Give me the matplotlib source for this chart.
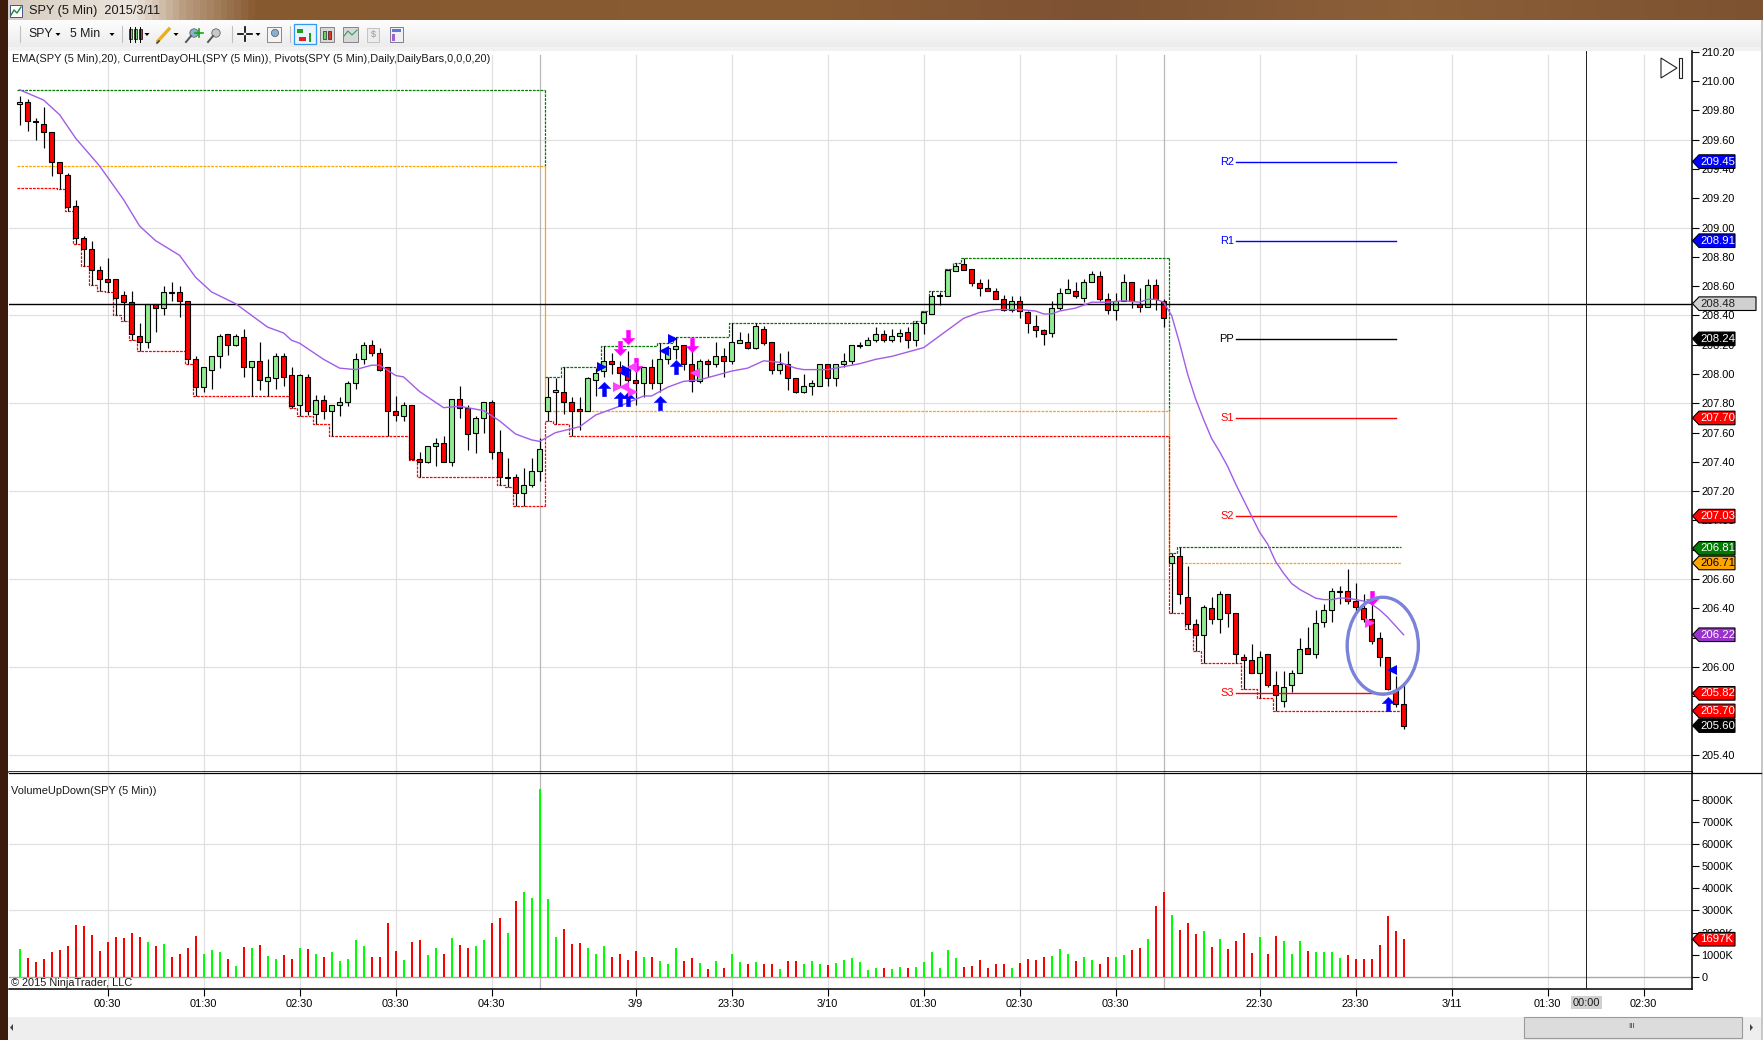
import numpy as np
import matplotlib
matplotlib.use("Agg")
import matplotlib.pyplot as plt
from matplotlib.colors import LinearSegmentedColormap
from matplotlib.patches import Polygon, Rectangle, Ellipse
from matplotlib.path import Path
from matplotlib.transforms import blended_transform_factory

plt.rcParams['font.family'] = ['Liberation Sans', 'DejaVu Sans']

# ---------- data ----------
directions = ("GRRRRRRRRR" "RRRRRRGRGR" "RRRGGGRGRG" "RGGRRGRGRG" "GGGGRRRRGR" "RGGRGRRGGR"
              "RGRGGGGGRR" "RGGGRRRRGR" "GGGRRGRGRG" "GRGRRGRRGG" "GRGGGGGGRG" "GRGGGGGGRR"
              "RRRRGRRRRG" "GGRGGRRGGR" "RGRRGRRRGR" "GRRRRGRRGG" "GRGGGGRRRR" "RRRR")
highs = [209.90,209.88,209.75,209.82,209.65,209.45,209.37,209.19,208.94,208.91,
         208.74,208.79,208.65,208.57,208.57,208.35,208.48,208.48,208.60,208.63,
         208.60,208.50,208.12,208.05,208.12,208.27,208.27,208.27,208.31,208.09,
         208.22,208.10,208.14,208.14,208.05,208.00,208.00,207.86,207.86,207.79,
         207.84,207.95,208.14,208.22,208.23,208.18,208.05,207.85,207.81,207.79,
         207.47,207.51,207.56,207.58,207.83,207.92,207.79,207.71,207.81,207.82,
         207.62,207.43,207.32,207.36,207.43,207.56,207.98,207.97,208.05,207.84,
         207.84,207.98,208.04,208.19,208.14,208.09,208.16,208.05,208.05,208.10,
         208.21,208.19,208.25,208.20,208.18,208.10,208.10,208.22,208.18,208.35,
         208.29,208.28,208.35,208.33,208.22,208.14,208.16,207.97,208.00,207.96,
         208.07,208.07,208.07,208.14,208.20,208.22,208.25,208.32,208.30,208.31,
         208.31,208.32,208.36,208.43,208.57,208.56,208.72,208.76,208.79,208.72,
         208.65,208.65,208.59,208.54,208.53,208.53,208.43,208.40,208.31,208.50,
         208.59,208.65,208.63,208.65,208.70,208.70,208.55,208.55,208.68,208.63,
         208.59,208.65,208.65,208.51,206.78,206.82,206.69,206.33,206.42,206.48,
         206.52,206.50,206.37,206.09,206.16,206.11,206.09,205.97,205.97,205.98,
         206.20,206.27,206.39,206.43,206.54,206.55,206.67,206.57,206.50,206.46,
         206.24,206.07,205.94,205.88]
body_tops = [209.86,209.86,209.73,209.71,209.65,209.45,209.36,209.15,208.93,208.85,
             208.71,208.65,208.65,208.54,208.49,208.26,208.48,208.48,208.56,208.56,
             208.56,208.50,208.10,208.05,208.12,208.26,208.27,208.26,208.25,208.09,
             208.09,207.98,208.12,208.12,207.99,207.99,207.98,207.82,207.82,207.79,
             207.81,207.94,208.10,208.20,208.20,208.14,208.05,207.75,207.79,207.79,
             207.42,207.51,207.53,207.53,207.83,207.83,207.77,207.70,207.81,207.81,
             207.47,207.30,207.30,207.24,207.34,207.49,207.84,207.89,207.88,207.81,
             207.76,207.97,208.01,208.09,208.09,208.05,208.03,207.96,208.05,208.05,
             208.10,208.18,208.19,208.20,208.07,208.09,208.09,208.12,208.12,208.22,
             208.23,208.22,208.33,208.31,208.22,208.07,208.07,207.97,207.92,207.94,
             208.07,208.07,208.07,208.09,208.20,208.20,208.23,208.27,208.27,208.26,
             208.28,208.29,208.35,208.42,208.53,208.54,208.71,208.74,208.75,208.72,
             208.62,208.59,208.57,208.51,208.50,208.50,208.42,208.33,208.30,208.45,
             208.55,208.58,208.57,208.63,208.68,208.67,208.51,208.50,208.63,208.63,
             208.48,208.61,208.61,208.50,206.76,206.76,206.48,206.29,206.41,206.40,
             206.50,206.50,206.37,206.07,206.05,206.07,206.09,205.88,205.86,205.96,
             206.12,206.13,206.30,206.39,206.52,206.52,206.52,206.45,206.40,206.33,
             206.20,206.07,205.84,205.75]
body_bottoms = [209.84,209.73,209.72,209.65,209.45,209.37,209.14,208.93,208.85,208.71,
                208.65,208.63,208.52,208.49,208.27,208.22,208.22,208.45,208.45,208.55,
                208.50,208.10,207.91,207.91,208.03,208.12,208.20,208.20,208.05,208.05,
                207.96,207.95,207.97,207.98,207.78,207.79,207.75,207.73,207.75,207.75,
                207.79,207.81,207.94,208.10,208.14,208.03,207.75,207.72,207.71,207.42,
                207.40,207.40,207.51,207.40,207.40,207.77,207.59,207.60,207.70,207.47,
                207.30,207.29,207.19,207.19,207.24,207.34,207.75,207.88,207.81,207.75,
                207.75,207.75,207.96,208.02,208.07,208.01,207.96,207.94,207.94,207.94,
                207.94,208.10,208.17,208.07,207.95,207.95,208.07,208.07,208.09,208.09,
                208.21,208.18,208.18,208.21,208.03,208.03,207.97,207.88,207.88,207.92,
                207.92,207.97,207.97,208.07,208.09,208.19,208.20,208.23,208.23,208.23,
                208.26,208.23,208.23,208.35,208.41,208.53,208.53,208.70,208.71,208.62,
                208.59,208.57,208.51,208.44,208.44,208.43,208.35,208.30,208.27,208.28,
                208.45,208.55,208.53,208.52,208.63,208.51,208.44,208.44,208.50,208.50,
                208.46,208.46,208.51,208.38,206.71,206.50,206.29,206.22,206.22,206.33,
                206.33,206.37,206.09,206.05,205.96,205.96,205.88,205.81,205.77,205.88,
                205.96,206.09,206.09,206.31,206.39,206.51,206.45,206.41,206.33,206.18,
                206.07,205.85,205.75,205.60]
lows = [209.70,209.66,209.60,209.54,209.35,209.26,209.11,208.89,208.74,208.61,
        208.57,208.56,208.40,208.36,208.23,208.16,208.18,208.29,208.40,208.50,
        208.39,208.07,207.85,207.88,207.90,208.04,208.13,208.19,207.98,207.85,
        207.89,207.85,207.90,207.92,207.77,207.71,207.72,207.66,207.69,207.58,
        207.71,207.78,207.90,208.07,208.12,208.02,207.58,207.68,207.68,207.41,
        207.30,207.39,207.37,207.40,207.37,207.70,207.48,207.46,207.60,207.42,
        207.24,207.23,207.10,207.10,207.23,207.27,207.68,207.66,207.73,207.58,
        207.62,207.75,207.85,207.98,208.00,207.91,207.85,207.79,207.84,207.90,
        207.88,208.07,208.10,208.03,207.88,207.94,207.98,208.05,207.98,208.07,
        208.21,208.17,208.17,208.20,208.00,208.00,207.89,207.87,207.87,207.86,
        207.92,207.92,207.92,208.05,208.07,208.18,208.20,208.22,208.22,208.22,
        208.22,208.18,208.19,208.27,208.41,208.47,208.53,208.70,208.71,208.60,
        208.53,208.57,208.51,208.43,208.42,208.38,208.28,208.25,208.20,208.25,
        208.44,208.55,208.52,208.49,208.63,208.50,208.41,208.37,208.50,208.45,
        208.42,208.46,208.44,208.32,206.37,206.43,206.26,206.11,206.03,206.29,
        206.23,206.27,206.03,205.85,205.96,205.79,205.86,205.70,205.73,205.83,
        205.96,206.09,206.06,206.27,206.31,206.43,206.43,206.37,206.31,206.16,
        206.01,205.84,205.73,205.58]
volumes = [1240,830,650,785,1100,1195,1375,2325,2280,1870,
           1150,1555,1780,1735,1965,1780,1555,1375,1465,875,
           1010,1285,1825,1010,1195,1100,785,470,1330,1285,
           1420,920,785,965,785,1285,1240,1010,875,1100,
           695,785,1645,1375,875,875,2415,1150,740,1555,
           1645,965,1285,1010,1735,1420,1285,1375,1645,2415,
           2640,1965,3410,3820,3550,8485,3500,1780,2145,1465,
           1510,1285,1010,1375,875,1010,740,1150,875,875,
           695,560,1285,695,830,605,330,695,380,1010,
           650,560,650,560,560,330,695,695,560,695,
           560,515,605,740,830,650,285,380,380,330,
           425,380,425,650,1100,380,1195,830,425,470,
           740,380,560,560,380,605,785,740,875,920,
           1240,1010,695,875,740,560,875,875,965,1195,
           1285,1690,3185,3820,2780,2100,2415,1920,2055,1330,
           1690,1240,1600,1965,1055,1780,1010,1825,1600,1010,
           1600,1150,1100,1100,1100,830,965,785,785,785,
           1420,2735,2055,1697]
ema_bars = [0,3,5,7,10,13,15,17,20,22,24,27,31,33,34,35,38,40,42,44,45,47,48,50,53,55,57,58,60,62,64,65,
            67,70,72,75,78,79,81,83,85,87,89,91,93,95,97,98,101,103,105,107,109,111,113,114,116,118,120,
            122,124,125,127,128,129,130,132,134,136,138,140,141,142,143,144,145,146,147,148,149,150,151,
            152,153,154,155,156,157,158,159,160,161,162,163,164,165,166,167,168,169,170,171,172,173]
ema_values = [209.94,209.87,209.77,209.61,209.42,209.19,209.01,208.91,208.81,208.66,208.56,208.48,208.32,
              208.28,208.23,208.21,208.10,208.04,208.03,208.06,208.06,207.99,207.98,207.88,207.77,207.78,
              207.76,207.75,207.68,207.59,207.55,207.54,207.60,207.64,207.72,207.78,207.85,207.85,207.91,
              207.95,207.96,207.99,208.02,208.04,208.09,208.08,208.04,208.03,208.03,208.05,208.07,208.10,
              208.12,208.15,208.18,208.22,208.30,208.38,208.42,208.44,208.44,208.44,208.43,208.41,208.41,
              208.43,208.45,208.49,208.49,208.50,208.49,208.51,208.51,208.49,208.40,208.21,208.00,207.83,
              207.69,207.56,207.47,207.37,207.25,207.14,207.03,206.92,206.84,206.72,206.64,206.57,206.53,
              206.50,206.47,206.46,206.46,206.47,206.47,206.46,206.45,206.43,206.39,206.34,206.28,206.22]
day_opens = [209.42, 207.75, 206.71]
first_day_high = 209.94
first_day_low = 209.27
pivot_names = ["R2", "R1", "PP", "S1", "S2", "S3"]
pivot_values = [209.45, 208.91, 208.24, 207.70, 207.03, 205.82]
pivot_colors = ["#0000ff", "#0000ff", "#000000", "#ff0000", "#ff0000", "#ff0000"]
up_arrow_bars = [73.1, 75.1, 76.1, 80.1, 82.1, 171.1]
up_arrow_prices = [207.90, 207.83, 207.83, 207.80, 208.05, 205.75]
down_arrow_bars = [76.1, 75.1, 77.1, 84.1, 169.1]
down_arrow_prices = [208.25, 208.18, 208.06, 208.20, 206.47]
blue_right_bars = [72.8, 75.9, 81.7]
blue_right_prices = [208.05, 208.03, 208.24]
blue_left_bars = [75.5, 80.5, 171.5]
blue_left_prices = [208.01, 208.16, 205.98]
pink_right_bars = [74.8, 76.7, 168.8]
pink_right_prices = [207.91, 207.88, 206.30]
pink_left_bars = [75.5, 76.5, 84.4]
pink_left_prices = [207.91, 208.05, 208.01]
hour_ticks = [11, 23, 35, 47, 59, 77, 89, 101, 113, 125, 137, 155, 167, 179, 191, 203]
hour_labels = ["00:30", "01:30", "02:30", "03:30", "04:30", "3/9", "23:30", "3/10", "01:30", "02:30",
               "03:30", "22:30", "23:30", "3/11", "01:30", "02:30"]
session_bars = [65, 143]
cursor_bar = 195.8
cursor_price = 208.48
price_ticks = [round(205.4 + 0.2 * k, 2) for k in range(25)]
price_grid = [205.4, 206.0, 206.6, 207.2, 207.8, 208.4, 209.0, 209.6]
volume_ticks = [0, 1000, 2000, 3000, 4000, 5000, 6000, 7000, 8000]
volume_labels = ["0", "1000K", "2000K", "3000K", "4000K", "5000K", "6000K", "7000K", "8000K"]
volume_grid = [3000, 6000]
price_flags = [("209.45", 209.45, "#0000ff", "white"), ("208.91", 208.91, "#0000ff", "white"),
               ("208.24", 208.24, "#000000", "white"), ("207.70", 207.70, "#ff0000", "white"),
               ("207.03", 207.03, "#ff0000", "white"), ("206.81", 206.81, "#007a00", "white"),
               ("206.71", 206.71, "#ffa500", "black"), ("206.22", 206.22, "#9932cc", "white"),
               ("205.82", 205.82, "#ff0000", "white"), ("205.70", 205.70, "#ff0000", "white"),
               ("205.60", 205.60, "#000000", "white")]

# ---------- layout ----------
W, H = 1763, 1040
X0, X1 = 8.5, 1691.5
Y_TOP, Y_MID, Y_BOT = 51.0, 772.3, 989.0
def fx(p): return p / W
def fy(p): return 1 - p / H

fig = plt.figure(figsize=(W / 100, H / 100), dpi=100, facecolor="white")
bg = fig.add_axes([0, 0, 1, 1], zorder=0)
bg.set_xlim(0, W); bg.set_ylim(H, 0); bg.axis("off")
ax = fig.add_axes([fx(X0), fy(Y_MID), fx(X1 - X0), (Y_MID - Y_TOP) / H], zorder=2)
vx = fig.add_axes([fx(X0), fy(Y_BOT), fx(X1 - X0), (Y_BOT - Y_MID) / H], zorder=2)
top = fig.add_axes([0, 0, 1, 1], zorder=5)
top.set_xlim(0, W); top.set_ylim(H, 0); top.axis("off"); top.patch.set_alpha(0)

xlim = (-1.39, 208.99)
ax.set_xlim(*xlim); vx.set_xlim(*xlim)
ax.set_ylim(205.281, 210.205)
vx.set_ylim(-557, 9257)

n = len(highs)
idx = np.arange(n)
highs_a, lows_a = np.array(highs), np.array(lows)
tops_a, bots_a = np.array(body_tops), np.array(body_bottoms)
is_up = np.array([c == "G" for c in directions])

TXT = 7.9
GRID = "#e0e0e0"

# ---------- grids ----------
for a in (ax, vx):
    for sp in ("top", "left"):
        a.spines[sp].set_visible(False)
    for sp in ("right", "bottom"):
        a.spines[sp].set_linewidth(1.1)
    for t in hour_ticks:
        a.axvline(t, color=GRID, lw=0.9, ymax=(0.995 if a is ax else 1), zorder=0.5)
    for s in session_bars:
        a.axvline(s + 0.08, color="#b8b8b8", lw=0.9, ymax=(0.995 if a is ax else 1), zorder=0.6)
    a.axvline(cursor_bar, color="#202020", lw=0.7, zorder=5)
for g in price_grid:
    ax.axhline(g, color=GRID, lw=0.9, zorder=0.5)
for g in volume_grid:
    vx.axhline(g, color=GRID, lw=0.9, zorder=0.5)
vx.axhline(0, color="#a8a8a8", lw=1.0, zorder=1)

# ---------- OHL step lines ----------
def step(series, start, end):
    xs, ys = [], []
    for k, i in enumerate(range(start, end + 1)):
        xs += [i - 0.3, i + 0.7]
        ys += [series[k], series[k]]
    return xs, ys

sessions = [(0, 65), (66, 143), (144, 172)]
dash = (0, (2.2, 0.9))
for s, (a_, b_) in enumerate(sessions):
    hi = np.maximum.accumulate(highs_a[a_:b_ + 1])
    lo = np.minimum.accumulate(lows_a[a_:b_ + 1])
    if s == 0:
        hi = np.full_like(hi, first_day_high)
        lo = np.minimum(lo, first_day_low)
    xs, ys = step(hi, a_, b_)
    ax.plot(xs, ys, color="#007a00", lw=0.9, ls=dash, zorder=2)
    xl, yl = step(lo, a_, b_)
    ax.plot(xl, yl, color="#ff0000", lw=0.9, ls=dash, zorder=2)
    xo = [a_ - 0.3, b_ + 0.7]
    ax.plot(xo, [day_opens[s]] * 2, color="#ffa500", lw=0.9, ls=dash, zorder=2)
    if s < 2:
        xe = b_ + 0.7
        ax.plot([xe, xe], [hi[-1], day_opens[s]], color="#007a00", lw=0.9, ls=dash, zorder=2)
        ax.plot([xe, xe], [day_opens[s], day_opens[s + 1]], color="#ffa500", lw=0.9, zorder=2)
        next_first_low = lows_a[b_ + 1]
        ax.plot([xe, xe], [lo[-1], next_first_low], color="#ff0000", lw=0.9, ls=dash, zorder=2)

# ---------- candles ----------
ax.vlines(idx, lows_a, highs_a, color="black", lw=0.85, zorder=3)
ax.bar(idx, tops_a - bots_a, bottom=bots_a, width=0.7,
       color=["#90ee90" if u else "#ff0000" for u in is_up],
       edgecolor="black", linewidth=0.8, zorder=3.1)

# ---------- EMA ----------
ax.plot(ema_bars, ema_values, color="#a35ce6", lw=1.0, zorder=4)

# ---------- pivots ----------
for name, val, col in zip(pivot_names, pivot_values, pivot_colors):
    ax.plot([152, 172], [val, val], color=col, lw=1.0, zorder=3.5 if name == "S3" else 2.5)
    ax.text(151.8, val, name, color=col, fontsize=TXT, ha="right", va="center", zorder=6)

# ---------- crosshair ----------
ax.axhline(cursor_price, color="black", lw=1.0, zorder=3.6)

# ---------- markers ----------
up_path = Path([(-1.3, -4.5), (1.3, -4.5), (1.3, 0.5), (4, 0.5), (0, 4.5), (-4, 0.5), (-1.3, 0.5), (-1.3, -4.5)], closed=True)
down_path = Path([(-1.3, 4.5), (1.3, 4.5), (1.3, -0.5), (4, -0.5), (0, -4.5), (-4, -0.5), (-1.3, -0.5), (-1.3, 4.5)], closed=True)
ax.plot(up_arrow_bars, up_arrow_prices, ls="", marker=up_path, ms=10.5, color="#0000ff", mec="#0000ff", mew=0.2, zorder=5)
ax.plot(down_arrow_bars, down_arrow_prices, ls="", marker=down_path, ms=10.5, color="#ff00ff", mec="#ff00ff", mew=0.2, zorder=5)
ax.plot(blue_right_bars, blue_right_prices, ls="", marker=">", ms=6.5, color="#0000ff", mew=0, zorder=5)
ax.plot(blue_left_bars, blue_left_prices, ls="", marker="<", ms=6.5, color="#0000ff", mew=0, zorder=5)
ax.plot(pink_right_bars, pink_right_prices, ls="", marker=">", ms=6.5, color="#ff40ff", mew=0, zorder=5)
ax.plot(pink_left_bars, pink_left_prices, ls="", marker="<", ms=6.5, color="#ff40ff", mew=0, zorder=5)

# ---------- circle ----------
ax.add_patch(Ellipse((170.4, 206.145), 8.9, 0.662, fill=False, ec="#7a83d9", lw=2.4, zorder=6))

# ---------- volume ----------
vx.bar(idx, volumes, width=0.27, color=["#00ff00" if u else "#ff0000" for u in is_up], zorder=3)

# ---------- axes ticks ----------
ax.yaxis.tick_right(); vx.yaxis.tick_right()
ax.set_xticks([])
ax.set_yticks(price_ticks)
ax.set_yticklabels([f"{p:.2f}" for p in price_ticks], fontsize=TXT)
vx.set_yticks(volume_ticks)
vx.set_yticklabels(volume_labels, fontsize=TXT)
vx.set_xticks(hour_ticks)
vx.set_xticklabels(hour_labels, fontsize=TXT)
ax.tick_params(axis="y", length=5, width=0.8, pad=2)
vx.tick_params(axis="y", length=5, width=0.8, pad=2)
vx.tick_params(axis="x", length=5, width=0.8, pad=2.5)

# ---------- value flags ----------
def flag(axes, value, halfh, text, color, tc, x_right=1735):
    tr = blended_transform_factory(top.transData, axes.transData)
    verts = [(1692.5, value), (1699, value + halfh), (x_right, value + halfh),
             (x_right, value - halfh), (1699, value - halfh)]
    axes.add_patch(Polygon(verts, closed=True, transform=tr, fc=color, ec="black", lw=0.8,
                           clip_on=False, zorder=8))
    axes.text(1700.5, value, text, transform=tr, color=tc, fontsize=TXT + 0.3, va="center", ha="left",
              clip_on=False, zorder=9)

ph = 6.8 / 146.5
flag(ax, cursor_price, ph, f"{cursor_price:.2f}", "#d0d0d0", "#202020", x_right=1756)
for text, val, col, tc in price_flags:
    flag(ax, val, ph, text, col, tc)
flag(vx, volumes[-1], 6.8 / 22.08 * 1000, f"{volumes[-1]}K", "#ff0000", "white")

# ---------- window chrome ----------
bg.add_patch(Rectangle((0, 0), W, H, fc="white", ec="none"))
wood = LinearSegmentedColormap.from_list("wood", [(0, "#d8cdc0"), (0.07, "#ece6df"), (0.1, "#b89a7c"),
                                                  (0.14, "#87592f"), (0.45, "#8a5c34"), (0.62, "#7d5233"),
                                                  (0.8, "#8b6038"), (1, "#7c5230")])
bg.imshow(np.linspace(0, 1, 512).reshape(1, -1), extent=(8, W, 20, 0), aspect="auto", cmap=wood, zorder=1)
bg.set_xlim(0, W); bg.set_ylim(H, 0)
toolbar = LinearSegmentedColormap.from_list("tb", ["#fdfdfd", "#ececec"])
bg.imshow(np.linspace(0, 1, 32).reshape(-1, 1), extent=(8, W, 47, 20), aspect="auto", cmap=toolbar, zorder=1)
bg.set_xlim(0, W); bg.set_ylim(H, 0)
bg.add_patch(Rectangle((8, 47), W, 4, fc="#f2f2f2", ec="none", zorder=1.5))
bg.add_patch(Rectangle((8, 1017), W, 23, fc="#eeeeee", ec="none", zorder=1.5))
bg.add_patch(Rectangle((0, 0), 8, H, fc="#3c1a0c", ec="none", zorder=2))
bg.add_patch(Rectangle((1761, 20), 2, H, fc="#c8c8c8", ec="none", zorder=2))
top.plot([X0, W - 2], [Y_MID + 0.5, Y_MID + 0.5], color="black", lw=0.9)

top.add_patch(Rectangle((1524, 1017), 218, 21, fc="#dcdcdc", ec="#9a9a9a", lw=0.8))
top.text(1632, 1027, "III", fontsize=6, ha="center", va="center", color="#444444")
top.add_patch(Polygon([(13, 1024), (13, 1031), (10, 1027.5)], fc="#444444", ec="none"))
top.add_patch(Polygon([(1750, 1024), (1750, 1031), (1753, 1027.5)], fc="#444444", ec="none"))

# title bar & toolbar
top.text(29, 11, "SPY (5 Min)  2015/3/11", fontsize=9.2, va="center", color="#1a1a1a")
top.add_patch(Rectangle((10, 5), 12, 12, fc="white", ec="#445588", lw=0.7))
top.plot([11, 14, 17, 21], [15, 10, 13, 7], color="#1a8a3a", lw=1)
top.text(28, 34, "SPY", fontsize=8.8, va="center", color="#1a1a1a")
top.text(70, 34, "5 Min", fontsize=8.8, va="center", color="#1a1a1a")
for tx in (58, 112, 147, 176, 258):
    top.add_patch(Polygon([(tx - 2.5, 33), (tx + 2.5, 33), (tx, 36)], fc="black", ec="none"))
for sx in (20, 122, 232, 290):
    top.plot([sx, sx], [26, 42], color="#c0c0c0", lw=0.8)
for cx, cy, col in [(130, 34, "#70d070"), (135, 34, "#70d070"), (140, 34, "#e03030")]:
    top.plot([cx, cx], [27, 42], color="black", lw=0.7)
    top.add_patch(Rectangle((cx - 1.5, 29), 3, 10, fc=col, ec="black", lw=0.5))
top.plot([158, 169], [41, 29], color="#e8b020", lw=2.4)
top.plot([157, 159], [43, 41], color="#444444", lw=1.2)
for mx, col in [(194, "#89b0d0"), (216, "#c8c8c8")]:
    top.add_patch(plt.Circle((mx, 33), 4.2, fc=col, ec="#666666", lw=0.6))
    top.plot([mx - 3, mx - 8], [36, 42], color="#555555", lw=1.4)
top.plot([199, 199], [29, 37], color="#18a018", lw=1.2); top.plot([195, 203], [33, 33], color="#18a018", lw=1.2)
top.plot([238, 243], [34, 34], color="black", lw=1.2); top.plot([247, 252], [34, 34], color="black", lw=1.2)
top.plot([245, 245], [27, 32], color="black", lw=1.2); top.plot([245, 245], [36, 41], color="black", lw=1.2)
top.add_patch(Rectangle((267, 27), 14, 15, fc="#f4f4f4", ec="#777777", lw=0.6))
top.add_patch(plt.Circle((275, 33), 3.6, fc="#89b0d0", ec="#555555", lw=0.5))
top.add_patch(Rectangle((293.5, 24), 22, 20, fc="#eaf4fc", ec="#3399ee", lw=0.9))
for x_, y_, w_, h_, c_ in [(297, 29, 6, 4, "#20a020"), (299, 37, 7, 4, "#e02020"), (309, 33, 2, 9, "#20a020")]:
    top.add_patch(Rectangle((x_, y_), w_, h_, fc=c_, ec="none"))
for x_ in (320,):
    top.add_patch(Rectangle((x_, 27), 14, 15, fc="#d8d8d8", ec="#777777", lw=0.6))
    top.add_patch(Rectangle((x_ + 3, 31), 3, 8, fc="#70d070", ec="black", lw=0.4))
    top.add_patch(Rectangle((x_ + 8, 31), 3, 8, fc="#e03030", ec="black", lw=0.4))
top.add_patch(Rectangle((343, 27), 15, 15, fc="#d8d8d8", ec="#777777", lw=0.6))
top.plot([344, 348, 352, 357], [36, 31, 35, 30], color="#30a060", lw=0.8)
top.add_patch(Rectangle((367, 28), 12, 14, fc="#ececec", ec="#bbbbbb", lw=0.6))
top.text(373, 35, "$", fontsize=6.5, color="#999999", ha="center", va="center")
top.add_patch(Rectangle((390, 27), 13, 15, fc="#f0f0f0", ec="#6a6a8a", lw=0.6))
top.add_patch(Rectangle((392, 29), 9, 3, fc="#5a7ad8", ec="none"))
top.add_patch(Rectangle((392, 34), 3, 7, fc="#a060d0", ec="none"))

# chart texts
top.text(11.5, 59.5, "EMA(SPY (5 Min),20), CurrentDayOHL(SPY (5 Min)), Pivots(SPY (5 Min),Daily,DailyBars,0,0,0,20)",
         fontsize=TXT, va="center", color="#1a1a1a")
top.text(11, 790.5, "VolumeUpDown(SPY (5 Min))", fontsize=TXT, va="center", color="#1a1a1a")
top.text(11, 983, "\u00a9 2015 NinjaTrader, LLC", fontsize=TXT, va="center", color="#1a1a1a")
top.add_patch(Rectangle((1571, 996), 31, 12.5, fc="#d0d0d0", ec="none"))
top.text(1586.5, 1002.5, "00:00", fontsize=TXT, ha="center", va="center", color="#1a1a1a")
top.add_patch(Polygon([(1661, 58), (1677, 68), (1661, 78)], fc="white", ec="#222222", lw=0.8))
top.add_patch(Rectangle((1678.5, 58), 3.5, 20, fc="white", ec="#222222", lw=0.8))

fig.savefig("out.png", dpi=100)
